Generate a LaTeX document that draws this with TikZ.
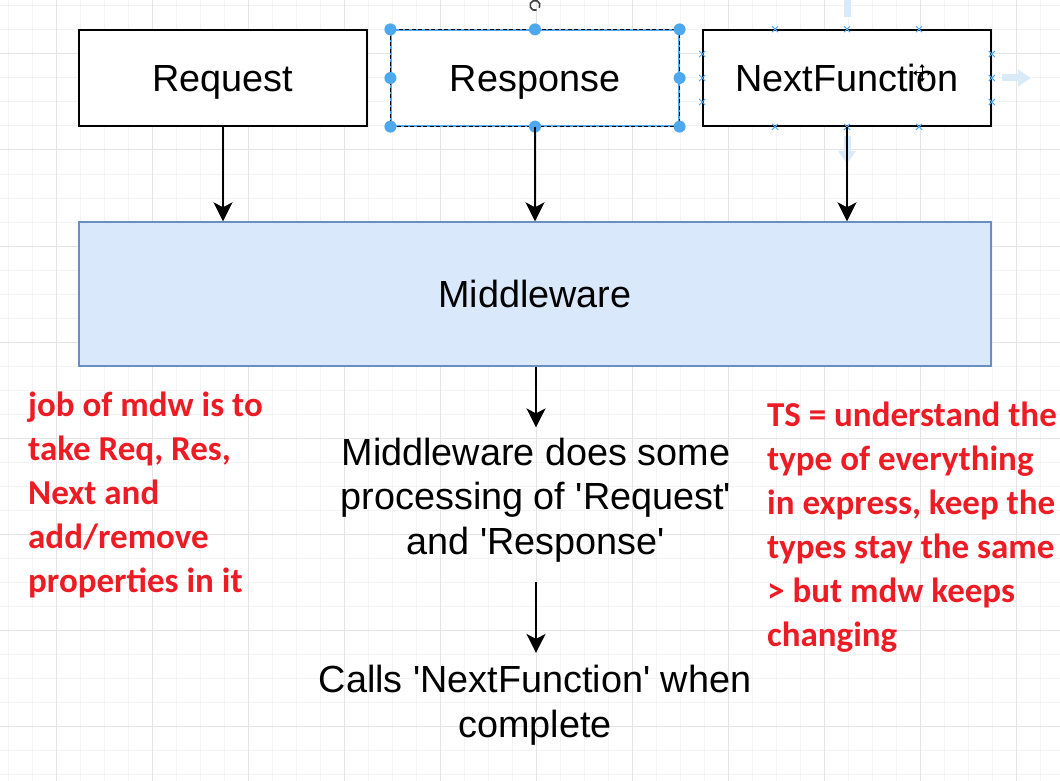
\documentclass[tikz,border=0pt]{standalone}
\usepackage{fontspec}
\setmainfont{Liberation Sans}
\newfontfamily\notefont{Carlito}
\usetikzlibrary{arrows.meta,shapes.misc}
\definecolor{gridminor}{HTML}{F3F3F3}
\definecolor{gridmajor}{HTML}{E4E4E4}
\definecolor{mwfill}{HTML}{DAE8FC}
\definecolor{mwdraw}{HTML}{6C8EBF}
\definecolor{handle}{HTML}{4EA8EE}
\definecolor{hint}{HTML}{D8EAF8}
\definecolor{notered}{RGB}{237,28,36}
\tikzset{
  bigtext/.style={font=\fontsize{37.8}{44.5}\selectfont},
  captext/.style={text height=27pt, text depth=0pt},
  topbox/.style={draw=black, line width=1.6pt, minimum width=288pt, minimum height=96pt, inner sep=0pt, bigtext, captext},
  arr/.style={-{Stealth[length=19pt,width=19pt,inset=5pt]}, line width=1.8pt},
  notetext/.style={text=notered, font=\notefont\bfseries\fontsize{35}{44}\selectfont, align=left, inner sep=0pt},
  xmark/.style={draw=handle, cross out, minimum size=5pt, inner sep=0pt, line width=1pt},
  hintarrow/.style={draw=hint, line width=7pt, -{Triangle[length=13pt,width=17pt]}}
}
\begin{document}
\begin{tikzpicture}[x=1pt,y=-1pt]
\useasboundingbox (0,0) rectangle (1060,781);
\fill[white] (0,0) rectangle (1060,781);
% grid
\foreach \x in {8,32,...,1060} \draw[gridminor, line width=1pt] (\x,0) -- (\x,781);
\foreach \y in {6,30,...,781} \draw[gridminor, line width=1pt] (0,\y) -- (1060,\y);
\foreach \x in {56,152,...,1060} \draw[gridmajor, line width=1pt] (\x,0) -- (\x,781);
\foreach \y in {54,150,...,781} \draw[gridmajor, line width=1pt] (0,\y) -- (1060,\y);

% top boxes
\node[topbox, fill=white] (req) at (223,78) {Request};
\node[topbox, fill=white, draw=handle, line width=1.2pt] (resp) at (535,78) {Response};
\draw[black, line width=1.5pt, dash pattern=on 4pt off 2.5pt] (resp.north west) rectangle (resp.south east);
\foreach \p in {north west, north, north east, west, east, south west, south, south east}
  \fill[handle] (resp.\p) circle (6);
\node[topbox, fill=white] (next) at (847,78) {NextFunction};

% rotation icon above Response
\draw[black!75, line width=1.6pt] ([yshift=24pt]resp.north) ++(70:5) arc[start angle=70, end angle=390, radius=5];

% connection marks on NextFunction
\foreach \d in {-72,0,72} {
  \node[xmark] at ([xshift=\d pt]next.north) {};
  \node[xmark] at ([xshift=\d pt]next.south) {};
}
\foreach \d in {-24,0,24} {
  \node[xmark] at ([yshift=\d pt]next.west) {};
  \node[xmark] at ([yshift=\d pt]next.east) {};
}
% hover hint arrows
\draw[hintarrow] ([yshift=12pt]next.north) -- ++(0,-40);
\draw[hintarrow] ([xshift=10pt]next.east) -- ++(29,0);
\draw[hintarrow] ([yshift=-9pt]next.south) -- ++(0,28);
% move cursor
\foreach \a in {0,90,180,270}
  \draw[line width=1pt, -{Triangle[length=3.5pt,width=5pt]}] (922,73) -- ++(\a:9);

% middleware
\node[draw=mwdraw, fill=mwfill, line width=1.4pt, minimum width=912pt, minimum height=144pt, inner sep=0pt, bigtext, captext] (mw) at (535,294) {Middleware};

\draw[arr] (req.south) -- (req.south |- mw.north);
\draw[arr] (resp.south) -- (resp.south |- mw.north);
\draw[arr] (next.south) -- (next.south |- mw.north);

% processing text
\node[bigtext, align=center, inner sep=0pt, anchor=base] (md) at (536,554) {Middleware does some\\processing of \textquotesingle Request\textquotesingle\\and \textquotesingle Response\textquotesingle};
\node[bigtext, align=center, inner sep=0pt, anchor=base] (calls) at (535,737) {Calls \textquotesingle NextFunction\textquotesingle{} when\\complete};

\coordinate (mdtop) at ([yshift=10pt]md.north);
\coordinate (mdbot) at ([yshift=-20pt]md.south);
\coordinate (callstop) at ([yshift=12pt]calls.north);
\draw[arr] (mw.south -| mdtop) -- (mdtop);
\draw[arr] (mdbot) -- (mdbot |- callstop);

% red notes
\node[notetext, anchor=base west] (noteL) at (28,592) {job of mdw is to\\take Req, Res,\\Next and\\add/remove\\properties in it};
\node[notetext, anchor=base west] (noteR) at (767,646) {TS = understand the\\type of everything\\in express, keep the\\types stay the same\\> but mdw keeps\\changing};
\end{tikzpicture}
\end{document}
